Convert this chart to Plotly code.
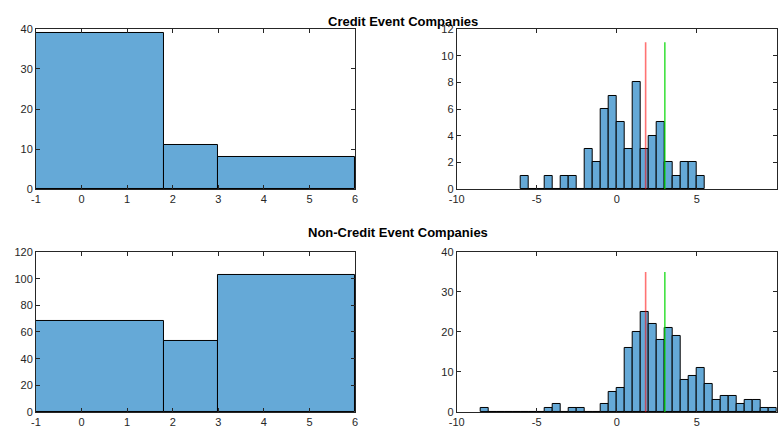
"""Credit vs non-credit event companies: coarse and fine histograms."""

import numpy as np
import plotly.graph_objects as go

# coarse bins (left panels)
coarse_edges = [-1, 1.8, 3, 6]
credit_coarse = [39, 11, 8]
noncredit_coarse = [68, 53, 103]

# fine bins (right panels), width 0.5
credit_fine_start = -6.0
credit_fine = [1, 0, 0, 1, 0, 1, 1, 0, 3, 2, 6, 7, 5, 3, 8, 3, 4, 5, 2, 1, 2, 2, 1]
noncredit_fine_start = -8.5
noncredit_fine = [1, 0, 0, 0, 0, 0, 0, 0, 1, 2, 0, 1, 1, 0, 0, 2, 5, 6, 16, 20,
                  25, 22, 18, 21, 19, 8, 9, 11, 7, 3, 4, 4, 2, 3, 3, 1, 1]
fine_width = 0.5

# threshold markers
red_x = 1.8
green_x = 3.0
credit_line_top = 11
noncredit_line_top = 35

# tick labels (hyphen minus as in the original)
left_ticks = [-1, 0, 1, 2, 3, 4, 5, 6]
left_ticktext = ["-1", "0", "1", "2", "3", "4", "5", "6"]
right_ticks = [-10, -5, 0, 5, 10]
right_ticktext = ["-10", "-5", "0", "5", "10"]

BAR_COLOR = "#65A9D7"
AX_COLOR = "#262626"
FONT = "Liberation Sans, Arial, sans-serif"

fig = go.Figure()


def add_bars(x, w, y, xa, ya):
    fig.add_trace(go.Bar(
        x=x, y=y, width=w, offset=0, xaxis=xa, yaxis=ya,
        marker=dict(color=BAR_COLOR, line=dict(color="black", width=1)),
        showlegend=False,
    ))


def add_vline(x, top, color, xa, ya):
    fig.add_trace(go.Scatter(
        x=[x, x], y=[0, top], mode="lines", xaxis=xa, yaxis=ya,
        line=dict(color=color, width=1.6), showlegend=False,
    ))


ce = np.array(coarse_edges, dtype=float)
add_bars(ce[:-1], np.diff(ce), credit_coarse, "x", "y")
add_bars(ce[:-1], np.diff(ce), noncredit_coarse, "x3", "y3")

cf_x = credit_fine_start + fine_width * np.arange(len(credit_fine))
add_bars(cf_x, [fine_width] * len(cf_x), credit_fine, "x2", "y2")
nf_x = noncredit_fine_start + fine_width * np.arange(len(noncredit_fine))
add_bars(nf_x, [fine_width] * len(nf_x), noncredit_fine, "x4", "y4")

for xa, ya, top in [("x2", "y2", credit_line_top), ("x4", "y4", noncredit_line_top)]:
    add_vline(red_x, top, "rgba(255,0,0,0.55)", xa, ya)
    add_vline(green_x, top, "rgba(0,215,0,0.75)", xa, ya)

axis_common = dict(
    showgrid=False, zeroline=False, showline=True, linecolor=AX_COLOR,
    linewidth=0.8, mirror="ticks", ticks="inside", ticklen=4,
    tickcolor=AX_COLOR, tickwidth=0.8, automargin=False,
    tickfont=dict(family=FONT, size=11, color=AX_COLOR),
)
left_x = dict(range=[-1, 6], tickmode="array", tickvals=left_ticks,
              ticktext=left_ticktext, **axis_common)
right_x = dict(range=[-10, 10], tickmode="array", tickvals=right_ticks,
               ticktext=right_ticktext, **axis_common)

left_dom = [0.046, 0.454]
right_dom = [0.584, 0.9935]
top_dom = [0.5645, 0.9332]
bot_dom = [0.0507, 0.4194]

fig.update_layout(
    width=782, height=434,
    margin=dict(l=0, r=0, t=0, b=0),
    paper_bgcolor="white", plot_bgcolor="white",
    bargap=0,
    xaxis=dict(domain=left_dom, anchor="y", **left_x),
    yaxis=dict(domain=top_dom, anchor="x", range=[0, 40], dtick=10, **axis_common),
    xaxis2=dict(domain=right_dom, anchor="y2", **right_x),
    yaxis2=dict(domain=top_dom, anchor="x2", range=[0, 12], dtick=2, **axis_common),
    xaxis3=dict(domain=left_dom, anchor="y3", **left_x),
    yaxis3=dict(domain=bot_dom, anchor="x3", range=[0, 120], dtick=20, **axis_common),
    xaxis4=dict(domain=right_dom, anchor="y4", **right_x),
    yaxis4=dict(domain=bot_dom, anchor="x4", range=[0, 40], dtick=10, **axis_common),
    annotations=[
        dict(text="<b>Credit Event Companies</b>", x=403 / 782, y=1 - 12.5 / 434,
             xref="paper", yref="paper", showarrow=False,
             font=dict(family=FONT, size=13, color="black")),
        dict(text="<b>Non-Credit Event Companies</b>", x=398 / 782, y=1 - 233 / 434,
             xref="paper", yref="paper", showarrow=False,
             font=dict(family=FONT, size=13, color="black")),
    ],
)

# drop the default 8px page margin so the figure sits at the window corner
fig.write_html("out.html", config={"displayModeBar": False},
               post_script="document.body.style.margin='0';")
